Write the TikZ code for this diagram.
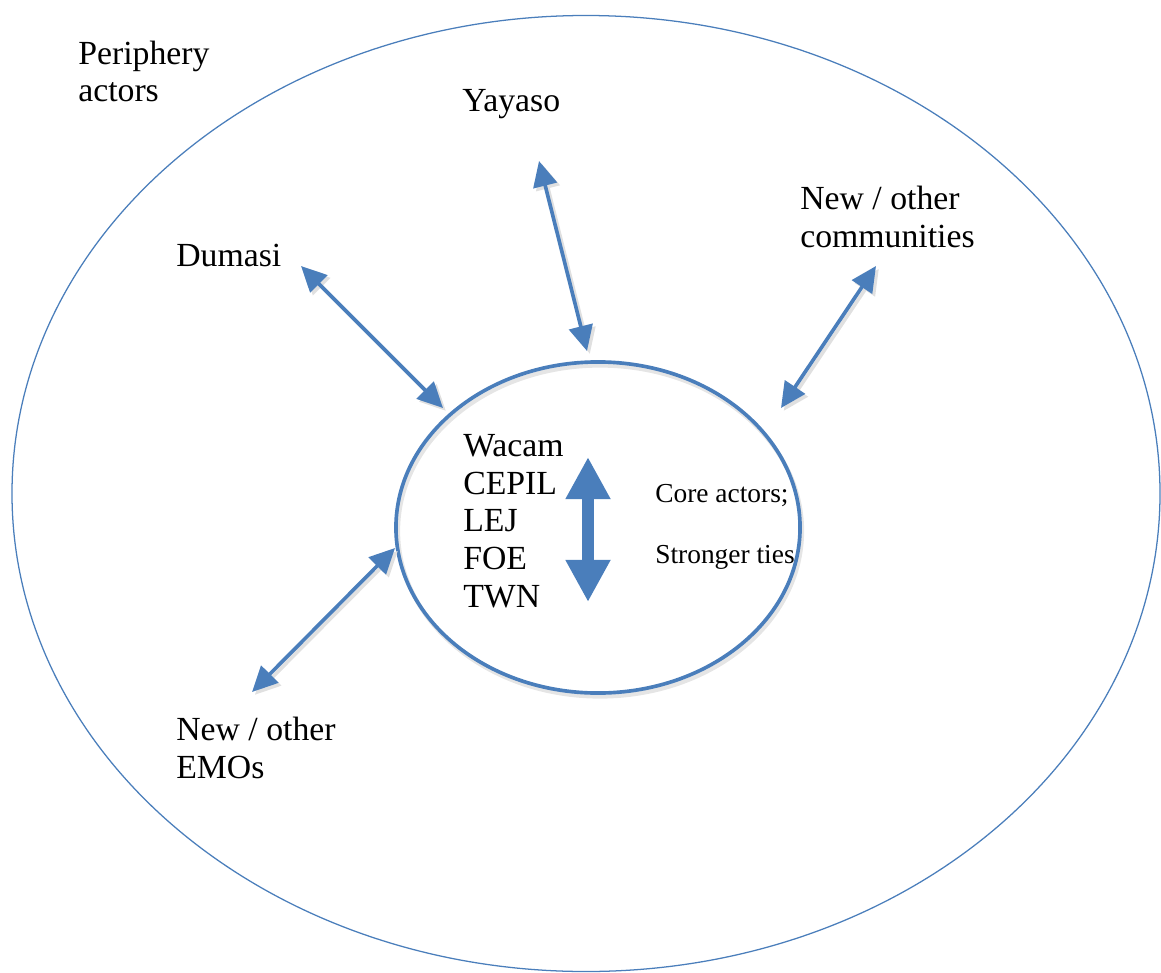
\documentclass[tikz,border=0pt]{standalone}
\usepackage{fontspec}
\setmainfont{Liberation Serif}
\usetikzlibrary{arrows.meta}
\usetikzlibrary{shapes.geometric}
\definecolor{tieblue}{RGB}{74,126,187}
\tikzset{
	actor/.style={font=\fontsize{24}{26.7}\selectfont, inner sep=0pt, align=left, anchor=base west},
	tie/.style={tieblue, line width=2.6pt, {Triangle[length=18pt,width=17pt]}-{Triangle[length=18pt,width=17pt]}},
	tieshadow/.style={black!12, line width=2.6pt, {Triangle[length=18pt,width=17pt]}-{Triangle[length=18pt,width=17pt]}, transform canvas={shift={(2pt,-2pt)}}},
	bigtie/.style={tieblue, line width=9pt, {Triangle[length=30pt,width=30pt]}-{Triangle[length=30pt,width=30pt]}}
}

\begin{document}
\begin{tikzpicture}[x=0.025cm,y=-0.025cm]
	\useasboundingbox (0,0) rectangle (1161,972);
	
	% periphery
	\draw[tieblue, line width=0.9pt] (586,493.5) ellipse [x radius=574, y radius=478];
	
	% core
	\draw[black!10, line width=3pt] (600,531) ellipse [x radius=202, y radius=165.5];
	\node[draw=tieblue, line width=2.6pt, ellipse, minimum width=10.1cm, minimum height=8.275cm, inner sep=0pt] (core) at (598,527.5) {};
	
	% base anchor sits on the last line
	\node[actor] (periphery) at (78,102) {Periphery\\actors};
	\node[actor] (yayaso) at (462,112) {Yayaso};
	\node[actor] (dumasi) at (176,266) {Dumasi};
	\node[actor] (communities) at (800,247) {New / other\\communities};
	\node[actor] (emos) at (176,778) {New / other\\EMOs};
	\node[actor] (corelist) at (463,607) {Wacam\\CEPIL\\LEJ\\FOE\\TWN};
	\node[actor, font=\fontsize{19.5}{23}\selectfont] (coredesc) at (655,563) {Core actors;\\[20pt]Stronger ties};
	
	\coordinate (dumasi end) at (301,266);
	\coordinate (dumasi core) at (443,408);
	\coordinate (yayaso end) at (539,161);
	\coordinate (yayaso core) at (587,351);
	\coordinate (communities end) at (876,266);
	\coordinate (communities core) at (781,408);
	\coordinate (emos end) at (252,692);
	\coordinate (emos core) at (395,548);
	\coordinate (core top) at (588,457);
	\coordinate (core bottom) at (588,602);
	
	\draw[tieshadow] (dumasi end) -- (dumasi core);
	\draw[tieshadow] (yayaso end) -- (yayaso core);
	\draw[tieshadow] (communities end) -- (communities core);
	\draw[tieshadow] (emos end) -- (emos core);
	
	\draw[tie] (dumasi end) -- (dumasi core);
	\draw[tie] (yayaso end) -- (yayaso core);
	\draw[tie] (communities end) -- (communities core);
	\draw[tie] (emos end) -- (emos core);
	\draw[bigtie] (core top) -- (core bottom);
\end{tikzpicture}
\end{document}
